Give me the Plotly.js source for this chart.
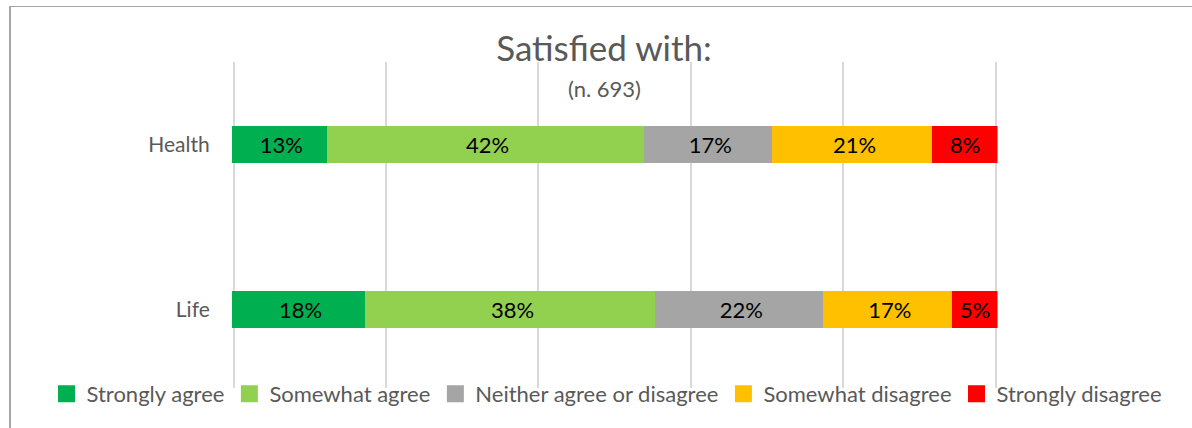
<!DOCTYPE html>
<html>
<head>
<meta charset="utf-8">
<script src="https://cdn.plot.ly/plotly-3.0.1.min.js"></script>
<style>
  html, body { margin: 0; padding: 0; background: #ffffff; }
  #chart { width: 1192px; height: 428px; }
  #frame { position: absolute; left: 9px; top: 6px; width: 1300px; height: 600px;
           border-top: 1.5px solid #a6a6a6; border-left: 2px solid #a6a6a6; pointer-events: none; }
</style>
</head>
<body>
<div id="chart"></div>
<div id="frame"></div>
<script>
// ---- data ----
const categories = ["Health", "Life"];
const seriesNames = ["Strongly agree", "Somewhat agree", "Neither agree or disagree", "Somewhat disagree", "Strongly disagree"];
const stronglyAgree    = [12.55, 17.6];
const somewhatAgree    = [41.55, 38.0];
const neither          = [16.85, 22.0];
const somewhatDisagree = [20.98, 16.95];
const stronglyDisagree = [8.07, 5.45];
const seriesColors = ["#00B050", "#92D050", "#A5A5A5", "#FFC000", "#FF0000"];
const xTicks = [0, 20, 40, 60, 80, 100];
const titleText = "Satisfied with:";
const subtitleText = "(n. 693)";

const FONT = 'Lato, "Open Sans", "Noto Sans", sans-serif';
const W = 1192, H = 428;
const seriesValues = [stronglyAgree, somewhatAgree, neither, somewhatDisagree, stronglyDisagree];

const traces = seriesValues.map((vals, i) => ({
  type: "bar",
  orientation: "h",
  name: seriesNames[i],
  y: categories,
  x: vals,
  width: 0.194,
  marker: { color: seriesColors[i], line: { width: 5, color: seriesColors[i] } },
  texttemplate: "%{x:.0f}%",
  textposition: "inside",
  insidetextanchor: "middle",
  constraintext: "none",
  textfont: { family: FONT, size: 22, color: "#000000" },
  hoverinfo: "name+x"
}));

const plotTop = 62, plotBottom = 388;
const layout = {
  width: W,
  height: H,
  margin: { l: 0, r: 0, t: 0, b: 0, pad: 0 },
  paper_bgcolor: "#ffffff",
  plot_bgcolor: "#ffffff",
  barmode: "stack",
  font: { family: FONT, color: "#595959" },
  title: {
    text: titleText,
    font: { family: FONT, size: 35, color: "#595959" },
    x: 604 / W, xref: "container", xanchor: "center",
    y: 1 - 49 / H, yref: "container", yanchor: "middle"
  },
  annotations: [{
    text: subtitleText,
    xref: "paper", yref: "paper",
    x: 604 / W, y: 1 - 88.5 / H,
    xanchor: "center", yanchor: "middle",
    showarrow: false,
    font: { family: FONT, size: 22, color: "#595959" }
  }],
  xaxis: {
    domain: [231.975 / W, 997.525 / W],
    range: [-0.2, 100.2],
    tickvals: xTicks,
    showticklabels: false,
    showgrid: true,
    gridcolor: "#d9d9d9",
    gridwidth: 2,
    zeroline: false,
    showline: false,
    fixedrange: true
  },
  yaxis: {
    domain: [1 - plotBottom / H, 1 - plotTop / H],
    categoryorder: "array",
    categoryarray: ["Life", "Health"],
    range: [-0.476, 1.5],
    showgrid: false,
    zeroline: false,
    showline: false,
    ticks: "outside",
    ticklen: 17,
    tickcolor: "rgba(0,0,0,0)",
    tickfont: { family: FONT, size: 21, color: "#595959" },
    fixedrange: true
  },
  showlegend: true,
  legend: {
    orientation: "h",
    xref: "paper", yref: "paper",
    x: 607 / W, xanchor: "center",
    y: 1 - 394 / H, yanchor: "middle",
    font: { family: FONT, size: 22, color: "#595959" },
    itemclick: false,
    itemdoubleclick: false,
    traceorder: "normal",
    itemwidth: 30,
    bgcolor: "rgba(0,0,0,0)"
  }
};

Plotly.newPlot("chart", traces, layout, { displayModeBar: false, staticPlot: true });
</script>
</body>
</html>
